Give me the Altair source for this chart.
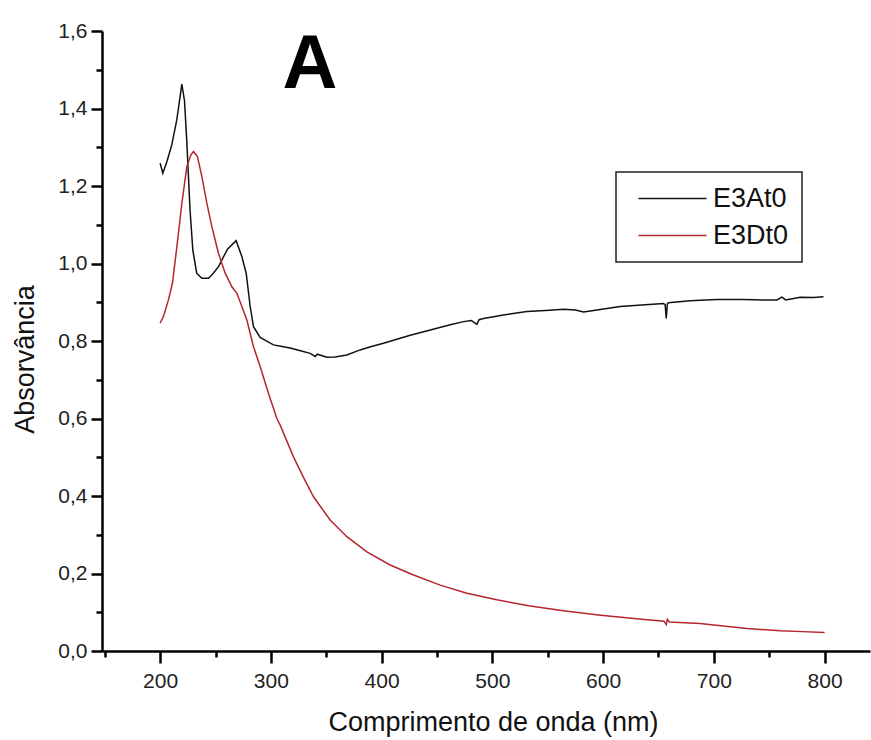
import altair as alt
import pandas as pd

# ---- data ----
wl_a = [200, 202.4, 206, 210.5, 215, 219.6, 222, 224, 227, 229.5, 233, 237.7, 243.7, 248,
        252.7, 260.8, 268.6, 273.8, 277.7, 281.3, 284.3, 290.3, 302.3, 311.4, 317.4, 325,
        335.5, 340, 342, 350.5, 358, 368.6, 380.6, 390, 401.7, 413, 425.8, 438, 449.9, 462,
        474, 481, 486, 488, 492, 510, 531.2, 548, 564.3, 575, 582.3, 590, 597.4, 615.4, 635,
        654.5, 656, 657, 658, 659, 678.6, 702.7, 726.8, 745, 756.9, 761.4, 765, 778, 790, 799]
abs_a = [1.259, 1.233, 1.262, 1.306, 1.37, 1.463, 1.42, 1.319, 1.138, 1.035, 0.975, 0.962,
         0.962, 0.975, 0.992, 1.037, 1.059, 1.018, 0.975, 0.889, 0.837, 0.809, 0.790, 0.785,
         0.782, 0.776, 0.768, 0.760, 0.766, 0.758, 0.759, 0.764, 0.777, 0.785, 0.794, 0.804,
         0.815, 0.824, 0.833, 0.842, 0.850, 0.853, 0.843, 0.855, 0.858, 0.867, 0.876, 0.879,
         0.882, 0.880, 0.875, 0.878, 0.881, 0.889, 0.893, 0.897, 0.894, 0.858, 0.896, 0.899,
         0.904, 0.907, 0.907, 0.906, 0.906, 0.913, 0.906, 0.913, 0.912, 0.914]

wl_d = [200, 203, 207.5, 211.1, 215.1, 219.6, 224.1, 227.7, 230.1, 233.7, 237.7, 242.2,
        246.7, 252.7, 258.7, 264.8, 269.3, 273.8, 278.3, 284.3, 290.3, 297.8, 305.4, 308.4,
        320.4, 330, 338.5, 353.5, 368.6, 386.7, 407.7, 428.8, 452.9, 477, 504, 534.1, 564.2,
        595.8, 630, 655, 657, 658, 660, 687.7, 700, 729.9, 760, 780, 800]
abs_d = [0.846, 0.863, 0.906, 0.949, 1.043, 1.155, 1.250, 1.280, 1.289, 1.276, 1.224, 1.155,
         1.095, 1.026, 0.975, 0.940, 0.923, 0.889, 0.854, 0.785, 0.734, 0.665, 0.600, 0.583,
         0.501, 0.445, 0.398, 0.338, 0.295, 0.256, 0.222, 0.196, 0.170, 0.149, 0.132, 0.116,
         0.104, 0.093, 0.083, 0.077, 0.068, 0.082, 0.075, 0.071, 0.067, 0.058, 0.052, 0.050,
         0.048]

series_names = ["E3At0", "E3Dt0"]
series_colors = ["#111111", "#b3262e"]

x_major = [200, 300, 400, 500, 600, 700, 800]
x_minor = [150, 250, 350, 450, 550, 650, 750]
y_major = [0.0, 0.2, 0.4, 0.6, 0.8, 1.0, 1.2, 1.4, 1.6]
y_minor = [0.1, 0.3, 0.5, 0.7, 0.9, 1.1, 1.3, 1.5]

panel_letter = ["A"]

df = pd.concat([
    pd.DataFrame({"wl": wl_a, "abs": abs_a, "serie": series_names[0]}),
    pd.DataFrame({"wl": wl_d, "abs": abs_d, "serie": series_names[1]}),
], ignore_index=True)

FONT = "Liberation Sans"

x_scale = alt.Scale(domain=[147.5, 841], nice=False, zero=False)
y_scale = alt.Scale(domain=[0, 1.6], nice=False)

x_axis = alt.Axis(
    values=x_major,
    orient="bottom",
    title="Comprimento de onda (nm)",
    format="d",
    tickSize=12,
    labelPadding=7,
    titlePadding=18,
    titleX=391,
    labelFlush=False,
    labelOverlap=False,
)
y_axis = alt.Axis(
    values=y_major,
    orient="left",
    title="Absorvância",
    labelExpr="replace(format(datum.value, '.1f'), '.', ',')",
    tickSize=11,
    labelPadding=4,
    titlePadding=18,
    titleY=328,
    labelFlush=False,
    labelOverlap=False,
)

lines = alt.Chart(df).mark_line(strokeWidth=1.5).encode(
    x=alt.X("wl:Q", scale=x_scale, axis=x_axis),
    y=alt.Y("abs:Q", scale=y_scale, axis=y_axis),
    color=alt.Color(
        "serie:N",
        scale=alt.Scale(domain=series_names, range=series_colors),
        legend=alt.Legend(
            title=None,
            orient="none",
            legendX=514,
            legendY=141,
            symbolType="M-3.4,0H3.4",
            symbolSize=400,
            symbolStrokeWidth=1.5,
            symbolOffset=30,
            labelOffset=27,
            labelFont=FONT,
            labelFontSize=27,
            labelColor="#111111",
            padding=13,
            rowPadding=9,
            strokeColor="#222222",
        ),
    ),
)

# invisible copy of the curves that only carries the minor-tick axes
minor = alt.Chart(df).mark_line(strokeOpacity=0).encode(
    x=alt.X("wl:Q", scale=x_scale,
            axis=alt.Axis(values=x_minor, orient="bottom", labels=False, title=None,
                          domain=False, tickSize=6)),
    y=alt.Y("abs:Q", scale=y_scale,
            axis=alt.Axis(values=y_minor, orient="left", labels=False, title=None,
                          domain=False, tickSize=6)),
    detail="serie:N",
)

letter = alt.Chart(pd.DataFrame({"t": panel_letter})).mark_text(
    font=FONT, fontSize=76, fontWeight="bold", align="center", baseline="alphabetic",
    color="black",
).encode(text="t:N", x=alt.value(208), y=alt.value(57))

chart = alt.layer(lines, minor, letter).resolve_axis(
    x="independent", y="independent"
).properties(
    width=768,
    height=620,
    padding={"left": 102, "top": 31, "right": 1, "bottom": 89},
    autosize=alt.AutoSizeParams(type="none"),
    background="white",
).configure_view(stroke=None).configure_axis(
    grid=False,
    domainColor="black",
    domainWidth=2.5,
    tickColor="black",
    tickWidth=2.5,
    labelFont=FONT,
    labelFontSize=21,
    labelColor="#222222",
    titleFont=FONT,
    titleFontSize=27,
    titleFontWeight="normal",
    titleColor="#111111",
).configure_legend(strokeWidth=1.5)

chart.save("out.html", embed_options={"renderer": "svg", "actions": False})
